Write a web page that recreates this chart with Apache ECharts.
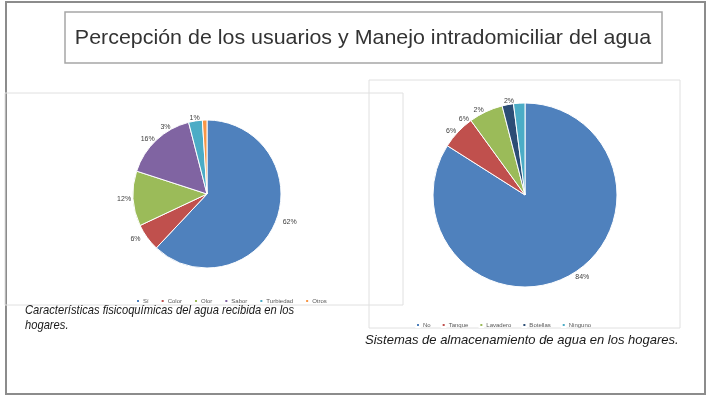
<!DOCTYPE html>
<html>
<head>
<meta charset="utf-8">
<script src="https://cdn.jsdelivr.net/npm/echarts@6/dist/echarts.min.js"></script>
<style>
  html, body { margin: 0; padding: 0; background: #ffffff; }
  #main { width: 711px; height: 401px; }
</style>
</head>
<body>
<div id="main"></div>
<script>
// Características fisicoquímicas del agua recibida
var aguaCategorias = ['Sí', 'Color', 'Olor', 'Sabor', 'Turbiedad', 'Otros'];
var aguaValores = [62, 6, 12, 16, 3, 1];
var aguaColores = ['#4F81BD', '#C0504D', '#9BBB59', '#8064A2', '#4BACC6', '#F79646'];

// Sistemas de almacenamiento de agua
var almacCategorias = ['No', 'Tanque', 'Lavadero', 'Botellas', 'Ninguno'];
var almacValores = [84, 6, 6, 2, 2];
var almacColores = ['#4F81BD', '#C0504D', '#9BBB59', '#2C4D75', '#4BACC6'];

function buildData(names, values, colors) {
  return names.map(function (n, i) {
    return { name: n, value: values[i], itemStyle: { color: colors[i] } };
  });
}

var myChart = echarts.init(document.getElementById('main'));

var pieLabel = {
  show: true,
  position: 'outside',
  formatter: '{c}%',
  fontSize: 7,
  color: '#404040',
  fontFamily: 'Liberation Sans'
};

var option = {
  animation: false,
  backgroundColor: '#ffffff',
  graphic: [
    // marco exterior
    { type: 'rect', shape: { x: 6, y: 2, width: 699, height: 392 },
      style: { fill: 'none', stroke: '#8c8c8c', lineWidth: 2 } },
    // caja del titulo
    { type: 'rect', shape: { x: 65, y: 12, width: 597, height: 51 },
      style: { fill: 'none', stroke: '#a6a6a6', lineWidth: 1.5 } },
    { type: 'text', x: 363, y: 38, scaleX: 1.02,
      style: { text: 'Percepción de los usuarios y Manejo intradomiciliar del agua',
        fill: '#333333', fontSize: 21, fontFamily: 'Liberation Sans',
        align: 'center', verticalAlign: 'middle' } },
    // paneles
    { type: 'rect', shape: { x: 5, y: 93, width: 398, height: 212 },
      style: { fill: 'none', stroke: '#e0e0e0', lineWidth: 1 } },
    { type: 'rect', shape: { x: 369, y: 80, width: 311, height: 248 },
      style: { fill: 'none', stroke: '#e0e0e0', lineWidth: 1 } },
    // pies de figura
    { type: 'text', x: 25, y: 318, scaleX: 0.86,
      style: { text: 'Características fisicoquímicas del agua recibida en los\nhogares.',
        fill: '#1a1a1a', fontSize: 13, fontStyle: 'italic', lineHeight: 15,
        fontFamily: 'Liberation Sans', verticalAlign: 'middle' } },
    { type: 'text', x: 365, y: 340, scaleX: 1.0,
      style: { text: 'Sistemas de almacenamiento de agua en los hogares.',
        fill: '#1a1a1a', fontSize: 13, fontStyle: 'italic',
        fontFamily: 'Liberation Sans', verticalAlign: 'middle' } }
  ],
  legend: [
    {
      data: aguaCategorias,
      left: 130, top: 293,
      itemWidth: 4, itemHeight: 4, itemGap: 11, icon: 'rect',
      textStyle: { fontSize: 6, color: '#595959', padding: [0, 0, 0, -2] }
    },
    {
      data: almacCategorias,
      left: 410, top: 317,
      itemWidth: 4, itemHeight: 4, itemGap: 10, icon: 'rect',
      textStyle: { fontSize: 6, color: '#595959', padding: [0, 0, 0, -2] }
    }
  ],
  series: [
    {
      type: 'pie',
      center: [207, 194],
      radius: 74,
      startAngle: 90,
      clockwise: true,
      itemStyle: { borderColor: '#ffffff', borderWidth: 1 },
      label: pieLabel,
      labelLine: { show: false, length: 2, length2: 0 },
      data: buildData(aguaCategorias, aguaValores, aguaColores)
    },
    {
      type: 'pie',
      center: [525, 195],
      radius: 92,
      startAngle: 90,
      clockwise: true,
      itemStyle: { borderColor: '#ffffff', borderWidth: 1 },
      label: pieLabel,
      labelLine: { show: false, length: 2, length2: 0 },
      data: buildData(almacCategorias, almacValores, almacColores)
    }
  ]
};

myChart.setOption(option);
</script>
</body>
</html>
